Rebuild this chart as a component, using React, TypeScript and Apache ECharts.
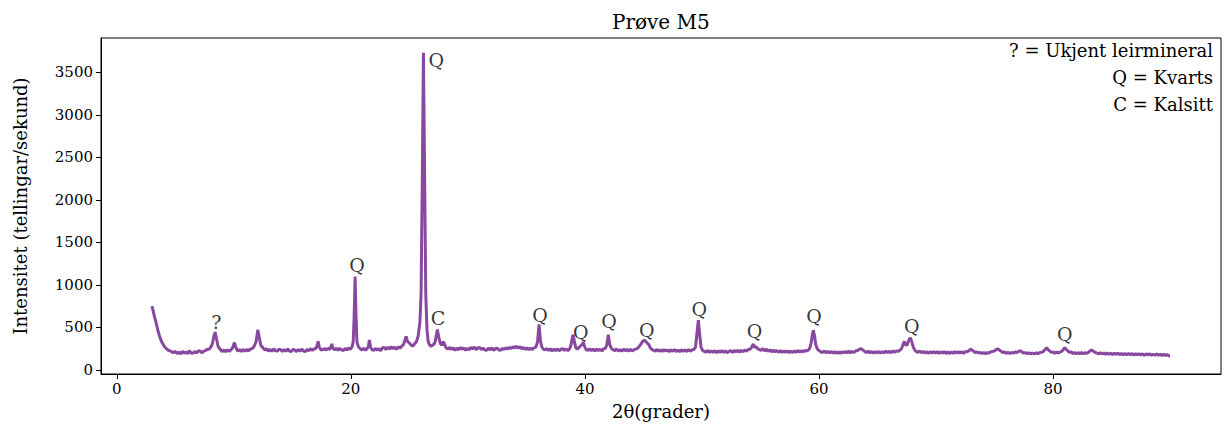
import React, { useEffect, useRef } from "react";
import * as echarts from "echarts";

// 2θ (degrees) and intensity (counts/second)
const scan: [number, number][] = [
  [3.0, 750], [3.1, 700], [3.2, 640], [3.35, 560], [3.5, 470], [3.65, 400], [3.8, 340], [4.0, 290],
  [4.2, 255], [4.4, 232], [4.6, 222], [4.8, 204], [5.0, 218], [5.15, 192], [5.3, 210], [5.45, 190],
  [5.6, 219], [5.75, 196], [5.9, 214], [6.05, 190], [6.2, 226], [6.35, 200], [6.5, 196], [6.65, 218],
  [6.8, 200], [6.95, 222], [7.1, 226], [7.25, 202], [7.4, 220], [7.55, 228], [7.7, 240], [7.85, 244],
  [7.95, 252], [8.15, 300], [8.3, 400], [8.4, 445], [8.5, 380], [8.65, 280], [8.85, 240], [9.0, 216],
  [9.15, 236], [9.3, 214], [9.45, 238], [9.6, 218], [9.75, 236], [9.9, 262], [10.05, 322], [10.2, 256],
  [10.35, 220], [10.5, 242], [10.65, 218], [10.8, 240], [10.95, 220], [11.1, 242], [11.25, 222],
  [11.4, 246], [11.55, 250], [11.7, 268], [11.9, 332], [12.05, 472], [12.15, 400], [12.3, 290],
  [12.5, 258], [12.65, 236], [12.8, 250], [12.95, 222], [13.1, 242], [13.25, 220], [13.4, 250],
  [13.55, 226], [13.7, 222], [13.85, 244], [14.0, 238], [14.15, 218], [14.3, 242], [14.45, 220],
  [14.6, 248], [14.75, 224], [14.9, 218], [15.05, 242], [15.2, 236], [15.35, 216], [15.5, 240],
  [15.65, 220], [15.8, 246], [15.95, 222], [16.1, 218], [16.25, 242], [16.4, 226], [16.55, 250],
  [16.7, 232], [16.85, 248], [17.0, 252], [17.1, 280], [17.2, 336], [17.3, 270], [17.45, 236],
  [17.6, 240], [17.75, 252], [17.9, 234], [18.05, 256], [18.2, 242], [18.3, 270], [18.37, 306],
  [18.45, 262], [18.6, 236], [18.75, 254], [18.9, 232], [19.05, 256], [19.2, 236], [19.35, 230],
  [19.5, 254], [19.65, 234], [19.8, 258], [19.95, 242], [20.1, 270], [20.2, 330], [20.28, 620],
  [20.36, 1100], [20.44, 640], [20.52, 330], [20.65, 270], [20.8, 250], [20.95, 234], [21.1, 256],
  [21.25, 232], [21.4, 254], [21.5, 272], [21.58, 352], [21.68, 272], [21.8, 240], [21.95, 230],
  [22.1, 254], [22.25, 234], [22.4, 250], [22.55, 226], [22.7, 260], [22.85, 266], [23.0, 240],
  [23.15, 268], [23.3, 246], [23.45, 274], [23.6, 250], [23.75, 268], [23.9, 242], [24.05, 274],
  [24.2, 256], [24.35, 280], [24.5, 300], [24.62, 350], [24.72, 396], [24.85, 334], [25.0, 318],
  [25.15, 292], [25.3, 282], [25.45, 310], [25.6, 330], [25.75, 400], [25.9, 560], [26.0, 900],
  [26.1, 2200], [26.2, 3730], [26.3, 2300], [26.4, 900], [26.5, 480], [26.6, 340], [26.7, 300],
  [26.85, 278], [27.0, 294], [27.1, 300], [27.22, 340], [27.39, 476], [27.52, 380], [27.65, 310],
  [27.78, 292], [27.9, 336], [28.0, 300], [28.15, 258], [28.3, 246], [28.45, 266], [28.6, 242],
  [28.75, 260], [28.9, 232], [29.05, 256], [29.2, 238], [29.35, 264], [29.5, 244], [29.65, 260],
  [29.8, 232], [29.95, 254], [30.1, 238], [30.25, 266], [30.4, 248], [30.55, 270], [30.7, 238],
  [30.85, 260], [31.0, 266], [31.15, 240], [31.3, 258], [31.45, 234], [31.6, 232], [31.75, 256],
  [31.9, 238], [32.05, 260], [32.2, 232], [32.35, 250], [32.5, 258], [32.65, 234], [32.8, 232],
  [32.95, 254], [33.1, 240], [33.25, 262], [33.4, 246], [33.55, 266], [33.7, 252], [33.85, 274],
  [34.0, 260], [34.15, 280], [34.3, 256], [34.45, 274], [34.6, 250], [34.75, 266], [34.9, 242],
  [35.05, 260], [35.2, 238], [35.35, 258], [35.5, 240], [35.65, 262], [35.8, 266], [35.95, 330],
  [36.08, 536], [36.2, 340], [36.32, 270], [36.45, 246], [36.6, 236], [36.75, 252], [36.9, 230],
  [37.05, 250], [37.2, 224], [37.35, 246], [37.5, 228], [37.65, 248], [37.8, 226], [37.95, 244],
  [38.1, 252], [38.25, 230], [38.4, 248], [38.55, 226], [38.7, 252], [38.82, 300], [38.92, 380],
  [39.0, 416], [39.1, 330], [39.22, 262], [39.35, 244], [39.5, 266], [39.62, 282], [39.75, 300],
  [39.86, 326], [39.98, 272], [40.1, 242], [40.25, 230], [40.4, 250], [40.55, 226], [40.7, 248],
  [40.85, 224], [41.0, 246], [41.15, 228], [41.3, 244], [41.45, 224], [41.6, 250], [41.75, 254],
  [41.88, 300], [42.0, 416], [42.12, 300], [42.25, 256], [42.4, 238], [42.55, 228], [42.7, 248],
  [42.85, 222], [43.0, 240], [43.15, 220], [43.3, 246], [43.45, 226], [43.6, 242], [43.75, 222],
  [43.9, 244], [44.05, 224], [44.2, 240], [44.35, 246], [44.5, 256], [44.65, 280], [44.8, 306],
  [44.92, 334], [45.07, 352], [45.2, 336], [45.32, 316], [45.45, 300], [45.58, 262], [45.72, 242],
  [45.85, 232], [46.0, 222], [46.15, 242], [46.3, 220], [46.45, 238], [46.6, 218], [46.75, 240],
  [46.9, 222], [47.05, 236], [47.2, 216], [47.35, 238], [47.5, 220], [47.65, 240], [47.8, 218],
  [47.95, 234], [48.1, 216], [48.25, 238], [48.4, 220], [48.55, 236], [48.7, 218], [48.85, 240],
  [49.0, 220], [49.15, 236], [49.3, 240], [49.45, 268], [49.58, 440], [49.69, 586], [49.8, 420],
  [49.92, 270], [50.05, 232], [50.2, 218], [50.35, 210], [50.5, 230], [50.65, 206], [50.8, 226],
  [50.95, 208], [51.1, 228], [51.25, 204], [51.4, 224], [51.55, 206], [51.7, 228], [51.85, 208],
  [52.0, 226], [52.15, 202], [52.3, 220], [52.45, 228], [52.6, 206], [52.75, 230], [52.9, 212],
  [53.05, 232], [53.2, 210], [53.35, 230], [53.5, 214], [53.65, 236], [53.8, 220], [53.95, 240],
  [54.1, 244], [54.22, 262], [54.32, 290], [54.4, 302], [54.5, 266], [54.62, 276], [54.75, 252],
  [54.9, 240], [55.05, 232], [55.2, 250], [55.35, 226], [55.5, 244], [55.65, 220], [55.8, 238],
  [55.95, 214], [56.1, 234], [56.25, 212], [56.4, 230], [56.55, 208], [56.7, 228], [56.85, 206],
  [57.0, 226], [57.15, 208], [57.3, 224], [57.45, 204], [57.6, 222], [57.75, 206], [57.9, 226],
  [58.05, 208], [58.2, 230], [58.35, 210], [58.5, 228], [58.65, 212], [58.8, 232], [58.95, 222],
  [59.1, 236], [59.22, 260], [59.33, 320], [59.45, 430], [59.52, 466], [59.62, 400], [59.72, 300],
  [59.85, 250], [60.0, 228], [60.15, 214], [60.3, 206], [60.45, 224], [60.6, 202], [60.75, 220],
  [60.9, 200], [61.05, 218], [61.2, 198], [61.35, 216], [61.5, 194], [61.65, 214], [61.8, 196],
  [61.95, 216], [62.1, 200], [62.25, 220], [62.4, 202], [62.55, 222], [62.7, 200], [62.85, 218],
  [63.0, 206], [63.15, 226], [63.3, 230], [63.45, 244], [63.6, 252], [63.75, 236], [63.9, 218],
  [64.05, 206], [64.2, 222], [64.35, 200], [64.5, 218], [64.65, 198], [64.8, 216], [64.95, 200],
  [65.1, 218], [65.25, 198], [65.4, 216], [65.55, 202], [65.7, 222], [65.85, 204], [66.0, 220],
  [66.15, 202], [66.3, 224], [66.45, 206], [66.6, 226], [66.75, 218], [66.9, 232], [67.05, 250],
  [67.18, 300], [67.3, 336], [67.42, 290], [67.55, 300], [67.68, 352], [67.8, 378], [67.92, 336],
  [68.05, 272], [68.18, 236], [68.3, 218], [68.45, 208], [68.6, 224], [68.75, 202], [68.9, 220],
  [69.05, 200], [69.2, 216], [69.35, 196], [69.5, 214], [69.65, 198], [69.8, 218], [69.95, 198],
  [70.1, 216], [70.25, 196], [70.4, 214], [70.55, 198], [70.7, 218], [70.85, 194], [71.0, 212],
  [71.15, 194], [71.3, 214], [71.45, 196], [71.6, 216], [71.75, 198], [71.9, 218], [72.05, 198],
  [72.2, 214], [72.35, 196], [72.5, 216], [72.65, 216], [72.8, 226], [72.95, 244], [73.05, 238],
  [73.2, 222], [73.35, 206], [73.5, 212], [73.65, 200], [73.8, 206], [73.95, 194], [74.1, 206],
  [74.25, 192], [74.4, 204], [74.55, 200], [74.7, 216], [74.85, 218], [75.0, 226], [75.15, 240],
  [75.27, 250], [75.4, 236], [75.55, 222], [75.7, 206], [75.85, 212], [76.0, 196], [76.15, 208],
  [76.3, 194], [76.45, 206], [76.6, 198], [76.75, 212], [76.9, 206], [77.05, 218], [77.2, 226],
  [77.35, 212], [77.5, 198], [77.65, 204], [77.8, 192], [77.95, 202], [78.1, 190], [78.25, 200],
  [78.4, 190], [78.55, 202], [78.7, 192], [78.85, 204], [79.0, 208], [79.15, 216], [79.3, 238],
  [79.45, 262], [79.58, 240], [79.72, 222], [79.85, 208], [80.0, 212], [80.15, 198], [80.3, 210],
  [80.45, 200], [80.6, 212], [80.75, 220], [80.88, 240], [81.0, 262], [81.12, 244], [81.25, 226],
  [81.4, 208], [81.55, 212], [81.7, 194], [81.85, 206], [82.0, 190], [82.15, 204], [82.3, 192],
  [82.45, 206], [82.6, 190], [82.75, 204], [82.9, 196], [83.05, 212], [83.18, 226], [83.3, 236],
  [83.45, 220], [83.6, 206], [83.75, 200], [83.9, 190], [84.05, 202], [84.2, 188], [84.35, 200],
  [84.5, 186], [84.65, 200], [84.8, 184], [84.95, 198], [85.1, 182], [85.25, 196], [85.4, 184],
  [85.55, 198], [85.7, 180], [85.85, 194], [86.0, 180], [86.15, 194], [86.3, 178], [86.45, 194],
  [86.6, 180], [86.75, 192], [86.9, 176], [87.05, 192], [87.2, 178], [87.35, 192], [87.5, 176],
  [87.65, 190], [87.8, 174], [87.95, 190], [88.1, 176], [88.25, 190], [88.4, 172], [88.55, 186],
  [88.7, 174], [88.85, 188], [89.0, 172], [89.15, 186], [89.3, 170], [89.45, 184], [89.6, 170],
  [89.75, 182], [89.9, 166], [90.0, 166],
];

// Peak annotations (label position in data units)
const annotX = [8.5, 20.53, 27.3, 27.45, 36.16, 39.65, 42.07, 45.28, 49.78, 54.5, 59.57, 67.92, 81.0];
const annotY = [569, 1238, 3644, 616, 651, 444, 572, 475, 712, 455, 630, 514, 418];
const annotText = ["?", "Q", "Q", "C", "Q", "Q", "Q", "Q", "Q", "Q", "Q", "Q", "Q"];

const legendLines = ["? = Ukjent leirmineral", "Q = Kvarts", "C = Kalsitt"];
const xTicks = [0, 20, 40, 60, 80];
const yTicks = [0, 500, 1000, 1500, 2000, 2500, 3000, 3500];

const FONT = "'DejaVu Serif', serif";

export default function App() {
  const ref = useRef<HTMLDivElement>(null);
  useEffect(() => {
    if (!ref.current) return;
    const chart = echarts.init(ref.current, null, { renderer: "svg" });
    const annotData = annotX.map((x, i) => ({ value: [x, annotY[i]], name: annotText[i] }));
    chart.setOption({
      animation: false,
      backgroundColor: "#ffffff",
      title: {
        text: "Prøve M5",
        left: 607,
        top: 7,
        textStyle: { fontFamily: FONT, fontSize: 20, fontWeight: "normal", color: "#000" },
      },
      grid: {
        left: 101,
        right: 4,
        top: 38,
        bottom: 56,
        show: true,
        borderColor: "#000",
        borderWidth: 1,
      },
      xAxis: {
        type: "value",
        min: -1.35,
        max: 94.35,
        name: "2θ(grader)",
        nameLocation: "middle",
        nameGap: 28,
        nameTextStyle: { fontFamily: FONT, fontSize: 18, color: "#000" },
        axisLine: { show: true, onZero: false, lineStyle: { color: "#000", width: 1 } },
        axisTick: { show: true, length: 5, customValues: xTicks, lineStyle: { color: "#000" } },
        axisLabel: {
          customValues: xTicks,
          formatter: (v: number) => String(v),
          fontFamily: FONT,
          fontSize: 15,
          color: "#000",
          margin: 7,
        },
        splitLine: { show: false },
      },
      yAxis: {
        type: "value",
        min: -47,
        max: 3903,
        name: "Intensitet (tellingar/sekund)",
        nameLocation: "middle",
        nameGap: 72,
        nameTextStyle: { fontFamily: FONT, fontSize: 18, color: "#000" },
        axisLine: { show: true, onZero: false, lineStyle: { color: "#000", width: 1 } },
        axisTick: { show: true, length: 5, customValues: yTicks, lineStyle: { color: "#000" } },
        axisLabel: {
          customValues: yTicks,
          formatter: (v: number) => String(v),
          fontFamily: FONT,
          fontSize: 15,
          color: "#000",
          margin: 8,
        },
        splitLine: { show: false },
      },
      graphic: legendLines.map((t, i) => ({
        type: "text",
        right: 12,
        top: 41 + i * 27,
        style: { text: t, font: `18px ${FONT}`, fill: "#000", textAlign: "right" },
      })),
      series: [
        {
          type: "line",
          data: scan,
          showSymbol: false,
          symbol: "none",
          lineStyle: { color: "#8848a0", width: 3 },
          z: 2,
        },
        {
          type: "scatter",
          data: annotData,
          symbolSize: 0,
          label: {
            show: true,
            position: "inside",
            formatter: (p: any) => p.name,
            fontFamily: FONT,
            fontSize: 19,
            color: "#000",
          },
          z: 3,
        },
      ],
    });
    return () => chart.dispose();
  }, []);
  return (
    <div
      ref={ref}
      style={{ position: "absolute", left: 0, top: 0, width: 1225, height: 430 }}
    />
  );
}
